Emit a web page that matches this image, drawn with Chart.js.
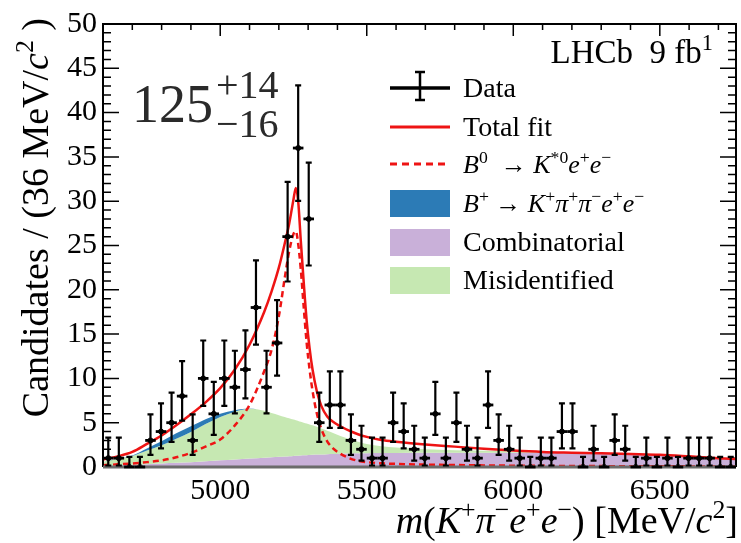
<!DOCTYPE html>
<html>
<head>
<meta charset="utf-8">
<title>B0 to K*0 e+ e- mass fit</title>
<script src="https://cdn.jsdelivr.net/npm/chart.js@4.4.1/dist/chart.umd.min.js"></script>
<style>
    html, body { margin: 0; padding: 0; background: #fff; }
    #wrap { width: 741px; height: 543px; }
</style>
</head>
<body>
<div id="wrap"><canvas id="mass-chart"></canvas></div>
<script>
// binning of the histogram (MeV/c^2)
const massLow = 4600;
const massHigh = 6760;
const binWidth = 36;

// candidates per 36 MeV bin
const counts = [1, 1, 0, 0, 3, 4, 5, 8, 3, 10,
    6, 10, 9, 11, 18, 9, 14, 26, 36, 28,
    5, 7, 7, 3, 2, 1, 1, 5, 4, 2,
    1, 6, 1, 5, 2, 1, 7, 3, 2, 1,
    0, 1, 1, 4, 4, 0, 2, 0, 3, 2,
    0, 1, 0, 1, 0, 1, 1, 1, 0, 0];

// fit curves sampled at these masses
const curveMass = [4600, 4650, 4700, 4750, 4800, 4850, 4900, 4950, 5000, 5050,
    5100, 5150, 5175, 5200, 5220, 5235, 5250, 5258, 5266, 5275,
    5285, 5295, 5305, 5315, 5330, 5345, 5365, 5385, 5410, 5440,
    5470, 5500, 5550, 5600, 5700, 5800, 5900, 6000, 6100, 6200,
    6300, 6400, 6500, 6600, 6700, 6760];

const totalFit = [0.85, 1.2, 1.7, 2.6, 3.55, 4.7, 5.95, 7.3, 8.9, 11.0,
    13.8, 17.5, 19.8, 22.5, 25.2, 27.4, 30.2, 31.5, 30.0, 25.5,
    20.8, 16.5, 13.4, 11.0, 8.5, 6.9, 5.7, 5.1, 4.6, 4.1,
    3.7, 3.4, 3.05, 2.85, 2.55, 2.3, 2.05, 1.85, 1.7, 1.62,
    1.55, 1.47, 1.38, 1.2, 1.0, 0.9];

const signalB0 = [0.2, 0.3, 0.4, 0.55, 0.75, 1.1, 1.6, 2.3, 3.1, 4.7,
    7.0, 10.8, 13.2, 17.0, 21.3, 24.3, 26.3, 26.6, 25.2, 22.3,
    18.0, 14.0, 11.0, 8.6, 6.0, 4.3, 2.9, 2.1, 1.5, 1.0,
    0.7, 0.55, 0.42, 0.35, 0.27, 0.22, 0.18, 0.15, 0.13, 0.11,
    0.1, 0.09, 0.08, 0.07, 0.06, 0.05];

const combinatorial = [0.1, 0.17, 0.25, 0.32, 0.4, 0.48, 0.55, 0.65, 0.75, 0.85,
    0.95, 1.05, 1.1, 1.15, 1.19, 1.22, 1.25, 1.27, 1.28, 1.3,
    1.32, 1.34, 1.36, 1.38, 1.4, 1.42, 1.45, 1.47, 1.5, 1.52,
    1.54, 1.55, 1.57, 1.58, 1.6, 1.6, 1.6, 1.6, 1.58, 1.55,
    1.5, 1.43, 1.33, 1.2, 1.0, 0.9];

const misidentified = [0.5, 0.73, 1.0, 1.53, 2.05, 2.72, 3.4, 4.2, 4.9, 5.4,
    5.62, 5.3, 5.0, 4.7, 4.46, 4.28, 4.1, 4.0, 3.92, 3.8,
    3.68, 3.56, 3.44, 3.32, 3.15, 2.93, 2.65, 2.38, 2.0, 1.63,
    1.31, 1.05, 0.78, 0.62, 0.4, 0.3, 0.22, 0.15, 0.12, 0.07,
    0.05, 0.02, 0.02, 0, 0, 0];

const bPlusKpipiee = [0, 0, 0.05, 0.25, 0.45, 0.6, 0.65, 0.55, 0.35, 0.15,
    0.03, 0, 0, 0, 0, 0, 0, 0, 0, 0,
    0, 0, 0, 0, 0, 0, 0, 0, 0, 0,
    0, 0, 0, 0, 0, 0, 0, 0, 0, 0,
    0, 0, 0, 0, 0, 0];

// axis ticks
const xTickValues = [5000, 5500, 6000, 6500];
const yTickValues = [0, 5, 10, 15, 20, 25, 30, 35, 40, 45, 50];

const RED = '#ee1414';
const BLUE = '#2c7bb6';
const PURPLE = '#c9b0d9';
const GREEN = '#c6e8b2';
const SERIF = '"Liberation Serif", "Times New Roman", serif';

const binCentres = counts.map((_, i) => massLow + binWidth * (i + 0.5));

// poisson intervals for the error bars
function poissonLow(n) {
    if (n === 0) return 0;
    return n * Math.pow(1 - 1 / (9 * n) - 1 / (3 * Math.sqrt(n)), 3);
}
function poissonHigh(n) {
    if (n === 0) return 1.15;
    return n + 1 + Math.sqrt(n + 0.75);
}

function pts(ys) {
    return curveMass.map((m, i) => ({x: m, y: ys[i]}));
}
const stackMisid = curveMass.map((_, i) => combinatorial[i] + misidentified[i]);
const stackBplus = curveMass.map((_, i) => stackMisid[i] + bPlusKpipiee[i]);

// text with italic / superscript pieces: [text, style] style: '', 'i', 's', 'si'
function drawRich(ctx, parts, x, y, size, align) {
    let width = 0;
    const items = parts.map(p => {
        const sup = p[1].indexOf('s') >= 0;
        const ital = p[1].indexOf('i') >= 0;
        const s = sup ? size * 0.68 : size;
        const font = (ital ? 'italic ' : '') + s + 'px ' + SERIF;
        ctx.font = font;
        const w = ctx.measureText(p[0]).width;
        width += w;
        return {t: p[0], font: font, w: w, dy: sup ? -size * 0.4 : 0};
    });
    let cx = align === 'right' ? x - width : x;
    ctx.textAlign = 'left';
    ctx.textBaseline = 'alphabetic';
    items.forEach(it => {
        ctx.font = it.font;
        ctx.fillText(it.t, cx, y + it.dy);
        cx += it.w;
    });
}

const ticksPlugin = {
    id: 'insideTicks',
    beforeDatasetsDraw(chart) {
        const {ctx, chartArea: a, scales: {x, y}} = chart;
        ctx.save();
        ctx.strokeStyle = '#000';
        ctx.lineWidth = 1.5;
        ctx.beginPath();
        for (let v = 0; v <= 50; v++) {
            const py = y.getPixelForValue(v);
            const len = v % 5 === 0 ? 16 : 8;
            ctx.moveTo(a.left, py); ctx.lineTo(a.left + len, py);
            ctx.moveTo(a.right, py); ctx.lineTo(a.right - len, py);
        }
        for (let v = massLow; v <= massHigh; v += 100) {
            const px = x.getPixelForValue(v);
            const len = v % 500 === 0 ? 12 : 6;
            ctx.moveTo(px, a.top); ctx.lineTo(px, a.top + len);
        }
        ctx.stroke();
        ctx.restore();
    }
};

const dataPlugin = {
    id: 'errorBars',
    afterDatasetsDraw(chart) {
        const {ctx, chartArea: a, scales: {x, y}} = chart;
        ctx.save();
        // frame
        ctx.strokeStyle = '#000';
        ctx.lineWidth = 2;
        ctx.beginPath();
        ctx.moveTo(a.left, a.bottom); ctx.lineTo(a.left, a.top);
        ctx.lineTo(a.right, a.top); ctx.lineTo(a.right, a.bottom);
        ctx.stroke();
        ctx.strokeStyle = '#6b6b6b';
        ctx.lineWidth = 3;
        ctx.beginPath();
        ctx.moveTo(a.left, a.bottom); ctx.lineTo(a.right, a.bottom);
        ctx.stroke();

        ctx.strokeStyle = '#000';
        counts.forEach((n, i) => {
            const c = binCentres[i];
            const px = x.getPixelForValue(c);
            const py = y.getPixelForValue(n);
            const lo = y.getPixelForValue(poissonLow(n));
            const hi = y.getPixelForValue(poissonHigh(n));
            ctx.lineWidth = 2.8;
            ctx.beginPath();
            ctx.moveTo(x.getPixelForValue(c - binWidth / 2), py);
            ctx.lineTo(x.getPixelForValue(c + binWidth / 2), py);
            ctx.stroke();
            ctx.lineWidth = 2.2;
            ctx.beginPath();
            ctx.moveTo(px, lo); ctx.lineTo(px, hi);
            ctx.moveTo(px - 3, hi); ctx.lineTo(px + 3, hi);
            if (n > 0) { ctx.moveTo(px - 3, lo); ctx.lineTo(px + 3, lo); }
            ctx.stroke();
        });
        ctx.restore();
    },
    afterDraw(chart) {
        const ctx = chart.ctx;
        ctx.save();
        ctx.fillStyle = '#000';

        // axis titles
        drawRich(ctx, [['m', 'i'], ['(', ''], ['K', 'i'], ['+', 's'], ['\u03c0', 'i'], ['\u2212', 's'],
            ['e', 'i'], ['+', 's'], ['e', 'i'], ['\u2212', 's'], [') [MeV/', ''], ['c', 'i'], ['2', 's'], [']', '']],
            738, 533, 38, 'right');
        ctx.save();
        ctx.translate(48, 18);
        ctx.rotate(-Math.PI / 2);
        drawRich(ctx, [['Candidates / (36 MeV/', ''], ['c', 'i'], ['2', 's'], [' )', '']], 0, 0, 38, 'right');
        ctx.restore();

        // experiment label and yield
        drawRich(ctx, [['LHCb  9 fb', ''], ['1', 's']], 713, 63, 33, 'right');
        ctx.fillStyle = '#2a2a2a';
        ctx.font = '54px ' + SERIF;
        ctx.fillText('125', 132, 122);
        ctx.font = '40px ' + SERIF;
        ctx.fillText('+14', 216, 98);
        ctx.fillText('\u221216', 216, 137);

        // legend
        const lx = 390, lw = 60, tx = 463;
        const rows = [88, 127, 164, 203, 242, 280];
        ctx.strokeStyle = '#000';
        ctx.lineWidth = 3.5;
        ctx.beginPath();
        ctx.moveTo(lx, rows[0]); ctx.lineTo(lx + lw, rows[0]);
        ctx.stroke();
        ctx.lineWidth = 2.5;
        ctx.beginPath();
        ctx.moveTo(lx + 30, rows[0] - 16); ctx.lineTo(lx + 30, rows[0] + 12);
        ctx.moveTo(lx + 25, rows[0] - 16); ctx.lineTo(lx + 35, rows[0] - 16);
        ctx.moveTo(lx + 25, rows[0] + 12); ctx.lineTo(lx + 35, rows[0] + 12);
        ctx.stroke();

        ctx.strokeStyle = RED;
        ctx.lineWidth = 3;
        ctx.beginPath();
        ctx.moveTo(lx, rows[1]); ctx.lineTo(lx + lw, rows[1]);
        ctx.stroke();
        ctx.setLineDash([7, 5]);
        ctx.beginPath();
        ctx.moveTo(lx, rows[2]); ctx.lineTo(lx + lw, rows[2]);
        ctx.stroke();
        ctx.setLineDash([]);

        [[BLUE, rows[3]], [PURPLE, rows[4]], [GREEN, rows[5]]].forEach(b => {
            ctx.fillStyle = b[0];
            ctx.fillRect(lx, b[1] - 13, lw, 27);
        });

        ctx.fillStyle = '#000';
        const fs = 28;
        drawRich(ctx, [['Data', '']], tx, rows[0] + 9, fs, 'left');
        drawRich(ctx, [['Total fit', '']], tx, rows[1] + 9, fs, 'left');
        drawRich(ctx, [['B', 'i'], ['0', 's'], ['  \u2192 ', ''], ['K', 'i'], ['*0', 's'], ['e', 'i'], ['+', 's'],
            ['e', 'i'], ['\u2212', 's']], tx, rows[2] + 9, fs - 2, 'left');
        drawRich(ctx, [['B', 'i'], ['+', 's'], [' \u2192 ', ''], ['K', 'i'], ['+', 's'], ['\u03c0', 'i'], ['+', 's'],
            ['\u03c0', 'i'], ['\u2212', 's'], ['e', 'i'], ['+', 's'], ['e', 'i'], ['\u2212', 's']], tx, rows[3] + 9, fs - 2, 'left');
        drawRich(ctx, [['Combinatorial', '']], tx, rows[4] + 9, fs, 'left');
        drawRich(ctx, [['Misidentified', '']], tx, rows[5] + 9, fs, 'left');
        ctx.restore();
    }
};

function curveSet(label, ys, color, extra) {
    return Object.assign({
        label: label,
        data: pts(ys),
        borderColor: color,
        backgroundColor: color,
        borderWidth: 0,
        pointRadius: 0,
        cubicInterpolationMode: 'monotone',
        fill: false
    }, extra);
}

let massChart = new Chart(document.getElementById('mass-chart'), {
    type: 'line',
    data: {
        datasets: [
            {
                type: 'scatter',
                label: 'Data',
                data: binCentres.map((c, i) => ({x: c, y: counts[i]})),
                backgroundColor: '#000',
                borderColor: '#000',
                pointRadius: 2.5,
                showLine: false
            },
            curveSet('Total fit', totalFit, RED, {borderWidth: 2.5}),
            curveSet('B0 -> K*0 e+ e-', signalB0, RED, {borderWidth: 2.5, borderDash: [6, 4]}),
            curveSet('B+ -> K+ pi+ pi- e+ e-', stackBplus, BLUE, {fill: '+1'}),
            curveSet('Misidentified', stackMisid, GREEN, {fill: '+1'}),
            curveSet('Combinatorial', combinatorial, PURPLE, {fill: 'origin'})
        ]
    },
    options: {
        responsive: true,
        maintainAspectRatio: false,
        animation: false,
        layout: {
            padding: {top: 21.7, right: 1.6, left: 0, bottom: 0}
        },
        plugins: {
            legend: {display: false},
            tooltip: {enabled: false}
        },
        scales: {
            x: {
                type: 'linear',
                min: massLow,
                max: massHigh,
                afterBuildTicks: scale => { scale.ticks = xTickValues.map(v => ({value: v})); },
                afterFit: scale => { scale.height = 76; },
                grid: {display: false, drawTicks: false},
                border: {display: false},
                ticks: {
                    color: '#000',
                    padding: 6,
                    maxRotation: 0,
                    callback: v => String(v),
                    font: {size: 30, family: SERIF}
                }
            },
            y: {
                min: 0,
                max: 50,
                afterBuildTicks: scale => { scale.ticks = yTickValues.map(v => ({value: v})); },
                afterFit: scale => { scale.width = 103; },
                grid: {display: false, drawTicks: false},
                border: {display: false},
                ticks: {
                    color: '#000',
                    padding: 6,
                    font: {size: 30, family: SERIF}
                }
            }
        }
    },
    plugins: [ticksPlugin, dataPlugin]
});
</script>
</body>
</html>
